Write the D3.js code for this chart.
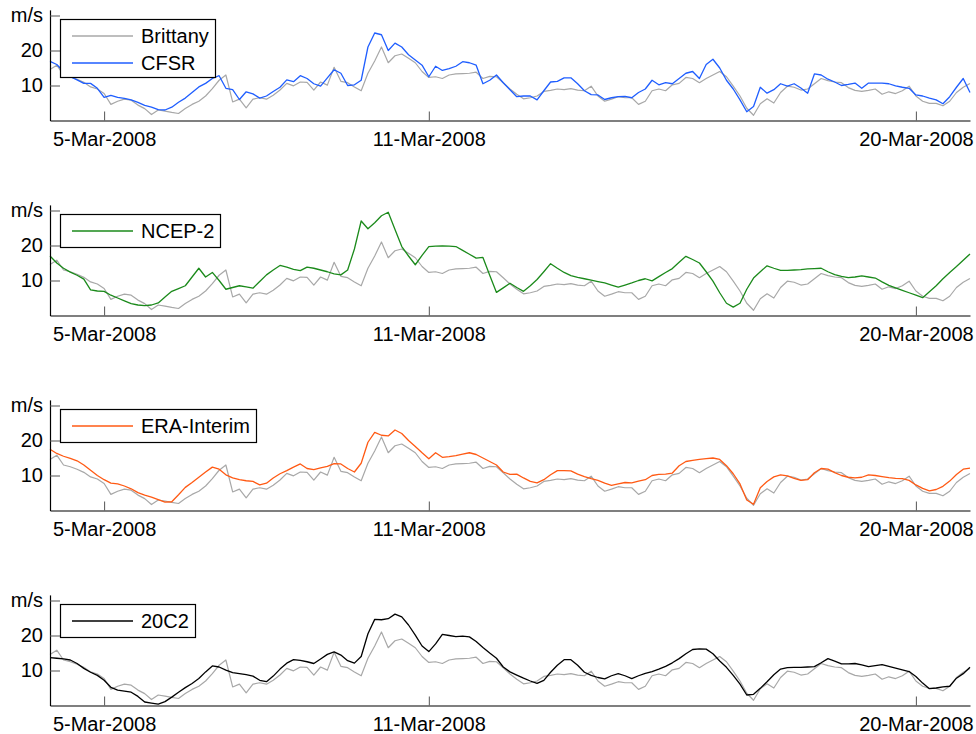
<!DOCTYPE html>
<html><head><meta charset="utf-8">
<script src="https://cdn.jsdelivr.net/npm/d3@7"></script>
<style>
body{margin:0;background:#fff}
svg{display:block}
text{font-family:"Liberation Sans",Arial,Helvetica,sans-serif}
</style>
</head><body>
<svg id="chart" width="976" height="734"></svg>
<script>
// ---- data (3-hourly wind speed, m/s, from 4-Mar-2008 00:00 UTC) ----
const startTime = "2008-03-04T00:00:00Z";
const endTime = "2008-03-21T00:00:00Z";
const stepHours = 3;
const tickDates = ["2008-03-05", "2008-03-11", "2008-03-20"];
const yTickValues = [10, 20, 30];
const yTickLabels = ["10", "20", "m/s"];

const brittany = [
  14.6, 15.8, 13, 12.5, 11.8, 10.9, 9.6, 9, 7.7, 4.6,
  5.5, 6.1, 5.8, 4.4, 3.4, 1.7, 3, 2.7, 2.3, 2,
  3.4, 4.6, 5.5, 7, 9.1, 11.5, 13, 5.3, 6.1, 3.6,
  6.1, 6.5, 6.1, 7.2, 8.7, 10.6, 9.9, 11, 10.9, 8.7,
  11, 10.1, 15.2, 11.2, 10.8, 9.6, 8.5, 13.5, 17, 21,
  16.5, 18.5, 19, 17.8, 16.5, 14, 12.3, 12.5, 12, 13,
  13.3, 13.4, 13.5, 13.8, 12, 12.6, 12.5, 10.8, 9, 7.5,
  6.2, 6.5, 7, 8.3, 8.6, 9, 8.8, 9.1, 8.7, 8.5,
  9.8, 7, 5.5, 6.1, 6.8, 6.5, 6.5, 4.6, 5.5, 8.5,
  9, 8.5, 10.2, 10.6, 12.3, 12, 10.8, 12, 13, 14,
  12.5, 9.8, 7, 3.5, 1.5, 4.8, 6.2, 5, 8, 9.8,
  9.5, 8.7, 9, 10.5, 12, 11.4, 11, 10.8, 9.4, 8.6,
  8.3, 8.6, 9, 7.5, 8.2, 7.7, 8.5, 9.8, 7, 5.5,
  4.9, 4.9, 4.2, 5.5, 8, 9.5, 10.6
];
const cfsr = [
  16.9, 16, 14, 12.5, 11.6, 10.6, 10.6, 9.2, 6.6, 7.2,
  6.6, 6.3, 5.9, 5.2, 4.3, 3.8, 3.1, 3, 3.8, 5.2,
  6.4, 8, 9.6, 10.6, 12, 12.8, 9.2, 8.8, 6, 8.2,
  7.6, 6.4, 7, 8.3, 9.5, 11.6, 11.1, 12.8, 12, 10.5,
  9.8, 12.2, 14.5, 13.5, 10, 10.2, 11.5, 21, 25, 24.5,
  20, 22.1, 21, 18.8, 17.3, 15.8, 12.5, 15.5, 14.3, 14.8,
  15.5, 16.8, 16.5, 15.8, 10.5, 11.5, 13, 10.8, 8.8, 6.8,
  7, 7, 5.9, 8.5, 11, 11.2, 12.2, 12.2, 10.5, 8.5,
  7.4, 7.3, 6, 6.5, 6.8, 6.9, 6.5, 8, 9, 11.5,
  10.2, 10.8, 10.5, 12, 13.5, 14, 12, 16, 17.5, 15,
  11.5, 9, 5.9, 2.5, 4, 9.5, 7.8, 8.8, 10.5, 9.8,
  10.5, 9.3, 7.8, 13.3, 13, 11.8, 11, 10, 10.3, 10.7,
  9.2, 10.7, 10.7, 10.7, 10.5, 9.9, 9.5, 9.2, 7.3, 7,
  6.4, 5.9, 4.8, 6.8, 9.5, 12, 8
];
const ncep2 = [
  17, 15, 13.5, 12.4, 11.5, 10.4, 7.3, 7, 6.9, 5.8,
  5, 4.2, 3.4, 3, 2.8, 3, 3.6, 5.3, 6.9, 7.7,
  8.5, 11, 13.5, 11, 12.3, 10, 7.5, 8, 8.5, 8.2,
  7.8, 9.7, 11.6, 13, 14.3, 13.8, 13.2, 12.8, 13.8, 13.5,
  13, 12.5, 11.9, 11.6, 13, 19, 27, 24.8, 26.5, 28.5,
  29.5, 24.6, 19.7, 17, 14.5, 17.2, 19.7, 19.8, 19.9, 19.8,
  19.7, 18.6, 17.5, 16.4, 16.6, 11.5, 6.6, 7.9, 9.2, 8,
  6.9, 8.5, 10.3, 12.5, 14.8, 13.5, 12.3, 11.4, 10.9, 10.5,
  10.1, 9.7, 9.3, 8.7, 8.1, 8.7, 9.3, 10, 10.5, 9.9,
  11.1, 12.3, 13.4, 15.2, 16.9, 16, 15, 12.5, 9.8, 6.5,
  3.5, 2.4, 3.5, 7.5, 10.7, 12.5, 14.2, 13.5, 12.9, 12.9,
  13, 13.1, 13.3, 13.4, 13.5, 12.5, 11.7, 11.2, 10.8, 11,
  11.3, 11, 10.7, 9.6, 8.6, 7.9, 7.2, 6.5, 5.8, 5.1,
  6.8, 8.5, 10.5, 12.3, 14, 15.8, 17.6
];
const eraInterim = [
  17.5, 16.3, 15.5, 14.9, 14.2, 13, 11.5, 10, 8.8, 7.8,
  7.6, 7, 6.2, 5.1, 4.4, 3.8, 3.1, 2.4, 2.5, 4.5,
  6.6, 8, 9.5, 11, 12.4, 11.8, 10.2, 9.3, 8.8, 8.5,
  8.3, 7.3, 7.8, 9.3, 10.5, 11.4, 12.4, 13.3, 12, 11.7,
  12.2, 12.6, 13.4, 13.3, 12, 11, 13.5, 19.5, 22.3, 21.5,
  21.3, 23, 22, 20, 18.3, 16.5, 14.8, 16.5, 15.2, 15.4,
  15.7, 16.1, 16.5, 16, 15, 14, 13, 11, 10.3, 10.4,
  9.3, 8.3, 7.9, 8.8, 10.2, 11.4, 11.4, 11.3, 10.4, 9.7,
  9.1, 8.6, 7.8, 7.2, 7.6, 8, 7.9, 8.4, 8.8, 10,
  10.3, 10.4, 10.7, 12.8, 14, 14.3, 14.6, 14.8, 15, 14.6,
  12.8, 10.5, 7.6, 3, 1.8, 6.5, 8.3, 9.6, 10.2, 9.9,
  9.2, 8.6, 8.8, 10.8, 12, 11.8, 10.8, 10, 9.5, 9.3,
  9.5, 10.2, 10, 9.7, 9.4, 9.2, 9.1, 8.6, 7.3, 6.3,
  5.6, 6, 6.9, 8.4, 10.3, 11.8, 12.1
];
const c20c2 = [
  13.7, 13.5, 13.3, 13, 12, 10.6, 9.5, 8.6, 7.2, 5.2,
  4.4, 4.1, 3.8, 2.6, 1, 0.7, 0.4, 1.1, 2.4, 3.8,
  5.1, 6.3, 7.7, 9.6, 11.3, 11, 10.1, 9.4, 9.1, 8.8,
  8.4, 7.2, 6.8, 8.4, 10.4, 12.1, 13.1, 12.9, 12.5, 12,
  13.3, 14.6, 15.3, 14.4, 12.8, 12.1, 14, 20.5, 24.6, 24.5,
  24.8, 26.1, 25.3, 23, 20.1, 17, 15.4, 17.6, 20.3, 20,
  19.7, 19.8, 19.6, 18.3, 16.6, 15, 13.5, 11, 9.6, 8.7,
  7.8, 7, 6.3, 7.2, 9.5, 11.5, 13.1, 13.1, 11.5, 9.5,
  8.6, 8, 7.6, 8.5, 9.1, 8.5, 7.7, 8.5, 9.2, 9.7,
  10.4, 11.2, 12.2, 13.4, 14.8, 16, 16.2, 16.1, 14.8, 12.7,
  10.9, 8.6, 6.1, 3, 3.2, 4.9, 6.8, 8.8, 10.4, 10.8,
  10.9, 10.9, 11, 11.1, 12.2, 13.4, 12.7, 11.9, 11.9, 12,
  11.6, 11.1, 11.4, 11.7, 11.2, 10.7, 10.2, 9.7, 8.3, 6.4,
  4.8, 5, 5.3, 5.5, 7.8, 9.1, 10.9
];

const obsName = "Brittany";
const seriesNames = ["CFSR", "NCEP-2", "ERA-Interim", "20C2"];
const seriesValues = [cfsr, ncep2, eraInterim, c20c2];
const seriesColors = ["#1f5eff", "#1b8a1b", "#ff5a14", "#000000"];
const obsColor = "#a8a8a8";

// ---- layout ----
const W = 976, H = 734;
const left = 50, right = 970;
const panelBottoms = [120.5, 315.5, 510.5, 705.5];
const yMax = 31.6;
const unitPx = 3.5;

const svg = d3.select("#chart");
svg.append("rect").attr("width", W).attr("height", H).attr("fill", "#fff");

const t0 = new Date(startTime), t1 = new Date(endTime);
const x = d3.scaleUtc().domain([t0, t1]).range([left, right]);
const timeAt = i => new Date(t0.getTime() + i * stepHours * 3600 * 1000);

seriesNames.forEach((name, p) => {
  const bottom = panelBottoms[p];
  const y = d3.scaleLinear().domain([0, yMax]).range([bottom, bottom - yMax * unitPx]);
  const g = svg.append("g");

  const line = d3.line().x((d, i) => x(timeAt(i))).y(d => y(d));

  g.append("path").datum(brittany)
    .attr("d", line).attr("fill", "none")
    .attr("stroke", obsColor).attr("stroke-width", 1.2).attr("stroke-linejoin", "round");
  g.append("path").datum(seriesValues[p])
    .attr("d", line).attr("fill", "none")
    .attr("stroke", seriesColors[p]).attr("stroke-width", 1.3).attr("stroke-linejoin", "round");

  // axes
  const yAxis = d3.axisLeft(y).tickValues(yTickValues)
    .tickFormat((d, i) => yTickLabels[i])
    .tickSizeInner(-10).tickSizeOuter(0).tickPadding(7);
  const ya = g.append("g").attr("transform", `translate(${left},0)`).call(yAxis);
  ya.select(".domain").attr("stroke", "#000").attr("stroke-width", 1.2);
  ya.selectAll(".tick line").attr("stroke", "#555");
  ya.selectAll(".tick text").attr("font-size", 20).attr("fill", "#000")
    .attr("font-family", '"Liberation Sans",Arial,sans-serif');

  const xAxis = d3.axisBottom(x).tickValues(tickDates.map(s => new Date(s + "T00:00:00Z")))
    .tickFormat(d3.utcFormat("%-d-%b-%Y"))
    .tickSizeInner(-9).tickSizeOuter(0).tickPadding(11);
  const xa = g.append("g").attr("transform", `translate(0,${bottom})`).call(xAxis);
  xa.select(".domain").attr("stroke", "#000").attr("stroke-width", 1.2);
  xa.selectAll(".tick line").attr("stroke", "#555");
  xa.selectAll(".tick text").attr("font-size", 20).attr("fill", "#000")
    .attr("font-family", '"Liberation Sans",Arial,sans-serif');

  // legend
  const entries = p === 0
    ? [{label: obsName, color: obsColor}, {label: name, color: seriesColors[p]}]
    : [{label: name, color: seriesColors[p]}];
  const rowH = 27;
  const boxTop = bottom - 101;
  const boxH = p === 0 ? 58 : 33;
  const lg = g.append("g");
  const box = lg.append("rect").attr("x", 60.5).attr("y", boxTop)
    .attr("height", boxH).attr("fill", "#fff").attr("stroke", "#000").attr("stroke-width", 1.2);
  let maxW = 0;
  entries.forEach((e, i) => {
    const cy = boxTop + 16.5 + i * rowH;
    lg.append("line").attr("x1", 72).attr("x2", 133).attr("y1", cy).attr("y2", cy)
      .attr("stroke", e.color).attr("stroke-width", 1.3);
    const tx = lg.append("text").attr("x", 141).attr("y", cy).attr("dy", "0.36em")
      .attr("font-size", 20).attr("fill", "#000").text(e.label);
    maxW = Math.max(maxW, tx.node().getComputedTextLength());
  });
  box.attr("width", Math.round(141 + maxW + 6 - 60));
});
</script>
</body></html>
